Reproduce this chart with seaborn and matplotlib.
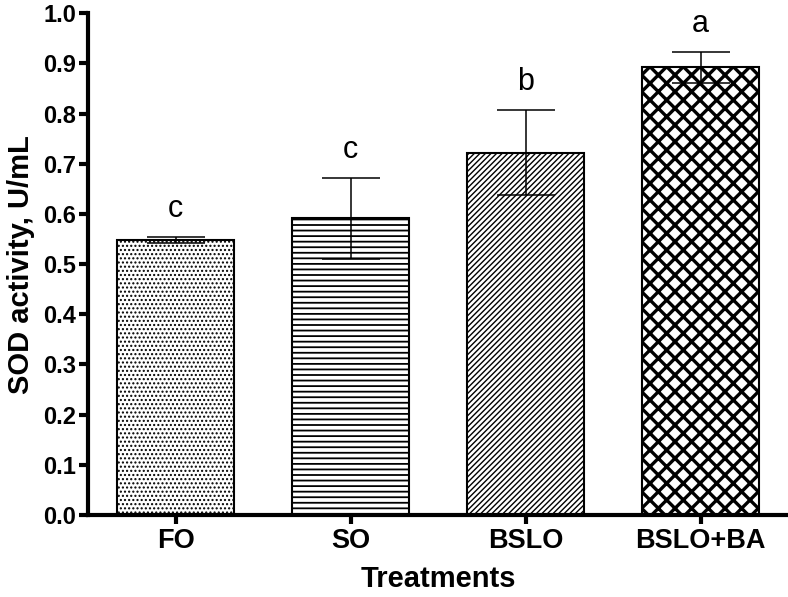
import numpy as np
import pandas as pd
import matplotlib
matplotlib.use("Agg")
import matplotlib.pyplot as plt
import seaborn as sns

treatments = ["FO", "SO", "BSLO", "BSLO+BA"]
sod_mean = [0.548, 0.591, 0.722, 0.892]
sod_err = [0.006, 0.081, 0.085, 0.031]
letters = ["c", "c", "b", "a"]
hatches = ["....", "---", "//////", "xx"]
hatch_lw = [1.0, 1.3, 1.0, 2.4]

df = pd.DataFrame({"Treatments": treatments, "SOD": sod_mean})

sns.set_style("ticks", {"axes.edgecolor": "black", "text.color": "black",
                        "axes.labelcolor": "black", "xtick.color": "black",
                        "ytick.color": "black"})
plt.rcParams["font.family"] = ["Liberation Sans", "DejaVu Sans"]
plt.rcParams["hatch.linewidth"] = 1.0

fig = plt.figure(figsize=(7.88, 5.97), dpi=100)
ax = fig.add_axes([0.1117, 0.1374, 0.8883, 0.8404])

sns.barplot(data=df, x="Treatments", y="SOD", color="white", edgecolor="black",
            linewidth=1.5, width=0.672, errorbar=None, ax=ax)
for bar, h, lw in zip(ax.patches, hatches, hatch_lw):
    bar.set_hatch(h)
    if hasattr(bar, "set_hatch_linewidth"):
        bar.set_hatch_linewidth(lw)

x = np.arange(len(treatments))
ax.errorbar(x, sod_mean, yerr=sod_err, fmt="none", ecolor="black",
            elinewidth=1.1, capsize=21, capthick=1.1, zorder=5)

# significance letters above the error bars
for xi, m, e, lab in zip(x, sod_mean, sod_err, letters):
    ax.text(xi, m + e + 0.04, lab, ha="center", va="baseline", fontsize=22,
            color="black")

ax.set_xlim(-0.5, 3.5)
ax.set_ylim(0, 1.0)
ax.set_yticks(np.arange(0, 1.01, 0.1))
ax.yaxis.set_major_formatter(matplotlib.ticker.FormatStrFormatter("%.1f"))
ax.set_ylabel("SOD activity, U/mL", fontsize=21, fontweight="bold", labelpad=6)
ax.set_xlabel("Treatments", fontsize=21, fontweight="bold", labelpad=8)

sns.despine(ax=ax)
for s in ["left", "bottom"]:
    ax.spines[s].set_linewidth(3)
    ax.spines[s].set_color("black")
ax.tick_params(axis="both", width=3, length=6.5, color="black", labelcolor="black")
ax.tick_params(axis="y", labelsize=17, pad=2)
ax.tick_params(axis="x", labelsize=19.5, pad=3)
for t in ax.get_xticklabels() + ax.get_yticklabels():
    t.set_fontweight("bold")

fig.savefig("out.png", dpi=100)
